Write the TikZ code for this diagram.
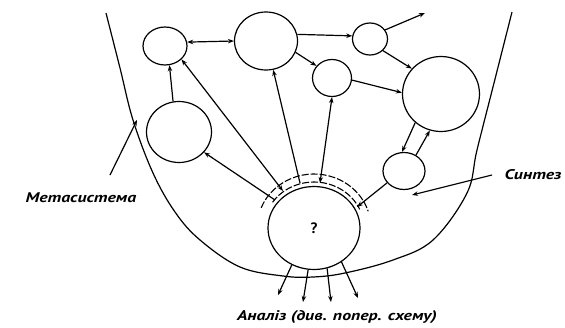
\documentclass[tikz,border=0pt]{standalone}
\usepackage{fontspec}
\setmainfont{PT Sans}
\usetikzlibrary{arrows.meta,shapes.geometric}
\begin{document}
\begin{tikzpicture}[x=1pt,y=-1pt,
  bub/.style={ellipse,draw,line width=1.2pt,inner sep=0pt},
  link/.style={line width=1.2pt,-{Stealth[length=6pt,width=4.5pt]}},
  both/.style={line width=1.2pt,{Stealth[length=6pt,width=4.5pt]}-{Stealth[length=6pt,width=4.5pt]}},
  plain/.style={line width=1.2pt},
  lbl/.style={font=\fontsize{14}{16}\selectfont\bfseries\itshape,inner sep=0pt,xscale=1.27},
  band/.style={line width=1.1pt,dash pattern=on 7pt off 2pt}]
\useasboundingbox (0,0) rectangle (565,327);
\fill[white] (0,0) rectangle (565,327);
% bubbles
\node[bub,minimum width=44pt,minimum height=38pt] (A) at (165,46) {};
\node[bub,minimum width=63pt,minimum height=58pt] (B) at (266,41) {};
\node[bub,minimum width=35pt,minimum height=32pt] (C) at (370,39) {};
\node[bub,minimum width=39pt,minimum height=37pt] (D) at (332,78) {};
\node[bub,minimum width=77pt,minimum height=75pt] (E) at (441,94) {};
\node[bub,minimum width=65pt,minimum height=61pt] (F) at (179,132) {};
\node[bub,minimum width=42pt,minimum height=37pt] (G) at (404,171) {};
\node[bub,minimum width=92pt,minimum height=83pt,font=\fontsize{15}{17}\selectfont\bfseries] (H) at (314,228) {?};
% labels
\node[lbl] (meta) at (81,198) {Метасистема};
\node[lbl] (synt) at (533,175) {Синтез};
\node[lbl] (anal) at (337,317) {Аналіз (див. попер. схему)};
% free ends
\coordinate (ms) at (110,175); \coordinate (mt) at (137,120);
\coordinate (ss) at (492,175); \coordinate (st) at (412,195);
\coordinate (cout) at (425,13);
\coordinate (o1) at (278,295); \coordinate (o2) at (303,302);
\coordinate (o3) at (331,302); \coordinate (o4) at (358,298);
\coordinate (hF) at (275,200); \coordinate (hA) at (283,191);
\coordinate (hB) at (300,183); \coordinate (hD) at (320,183);
\coordinate (hG) at (357,207);
% metasystem boundary
\draw[plain] plot[smooth,tension=0.6] coordinates {(106,13) (120,68) (133,120) (153,173) (175,212) (200,240) (240,267) (283,276) (313,277) (345,273) (393,260) (433,240) (467,193) (477,150) (494,83) (512,12)};
% band over H
\draw[band] ([shift={(158:57pt and 54pt)}]H.center) arc[start angle=158,end angle=18,x radius=57pt,y radius=54pt];
\draw[band] ([shift={(146:50pt and 46pt)}]H.center) arc[start angle=146,end angle=24,x radius=50pt,y radius=46pt];
% connectors
\draw[both] (A.10) -- (B.180);
\draw[link] (B.12) -- (C.170);
\draw[link] (C.31) -- (cout);
\draw[link] (C.-42) -- (E.139);
\draw[link] (B.-21) -- (D.142);
\draw[link] (D.-6) -- (E.178);
\draw[link] (F.101) -- (A.-77);
\draw[link] (E.-132) -- (G.96);
\draw[link] (G.53) -- (E.-107);
\draw[link] (G.-145) -- (hG);
\draw[link] (hF) -- (F.-39);
\draw[both] (hA) -- (A.-39);
\draw[link] (hB) -- (B.-76);
\draw[both] (hD) -- (D.-90);
\draw[link] (H.-121) -- (o1);
\draw[link] (H.-98) -- (o2);
\draw[link] (H.-72) -- (o3);
\draw[link] (H.-51) -- (o4);
\draw[link] (ms) -- (mt);
\draw[link] (ss) -- (st);
\end{tikzpicture}
\end{document}
